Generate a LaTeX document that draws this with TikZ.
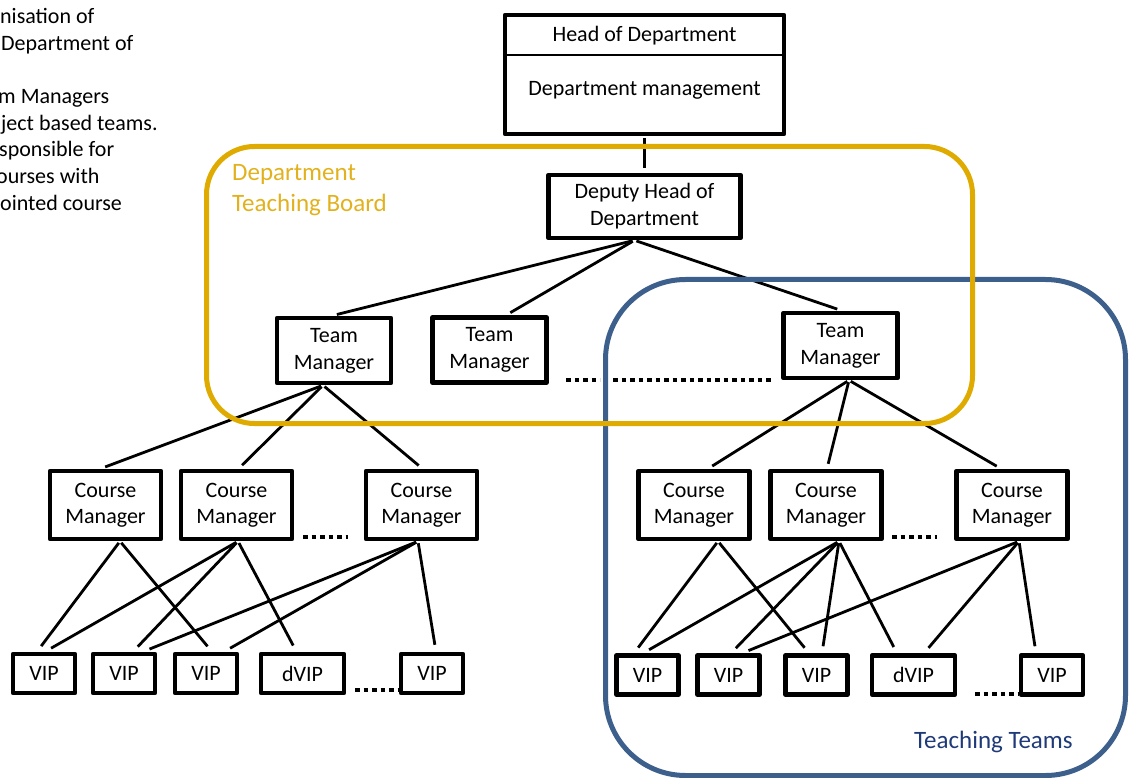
\documentclass[tikz,border=0pt]{standalone}
\usepackage{fontspec}
\setmainfont{Carlito}
\definecolor{boardgold}{RGB}{223,171,0}
\definecolor{boardtext}{RGB}{226,177,30}
\definecolor{teamblue}{RGB}{61,95,140}
\definecolor{teamnavy}{RGB}{31,58,120}
\tikzset{
  box/.style={draw, line width=4.6pt, align=center, inner sep=0pt, font=\fontsize{22}{27}\selectfont},
  cmbox/.style={box, minimum width=111pt, minimum height=68pt},
  tmbox/.style={box, minimum width=114pt, minimum height=65pt},
  vipbox/.style={box, minimum width=62pt, minimum height=39pt},
  dvipbox/.style={box, minimum width=83pt, minimum height=39pt},
  link/.style={line width=2.8pt, shorten <=2pt, shorten >=5pt},
  viplink/.style={link, shorten >=7pt},
  dotrow/.style={line width=4.5pt, dash pattern=on 4.5pt off 4pt},
}
\begin{document}
\begin{tikzpicture}[x=1pt, y=-1pt, line join=round]
	\useasboundingbox (0,0) rectangle (1133,778);
	% cropped note, top left
	\foreach \i/\x/\t in {0/0/nisation of, 1/1/Department of, 3/-2/m Managers, 4/1/ject based teams., 5/-1/sponsible for, 6/-4/ourses with, 7/0/ointed course}
		\node[anchor=base west, inner sep=0pt, font=\fontsize{22}{27}\selectfont] (note\i) at (\x,24+26.6*\i) {\t};
	% head and deputy
	\node[box, minimum width=279pt, minimum height=119pt] (head) at (644.5,74.5) {};
	\draw[line width=2.8pt] (head.west |- 0,55) -- (head.east |- 0,55);
	\node[font=\fontsize{22}{27}\selectfont] (headtitle) at (644.5,36) {Head of Department};
	\node[font=\fontsize{22}{27}\selectfont] (headmgmt) at (644.5,90) {Department management};
	\node[box, minimum width=192pt, minimum height=63pt] (dep) at (644.5,206.5) {Deputy Head of\\Department};
	% team managers
	\node[tmbox] (tm1) at (334,350.5) {Team\\Manager};
	\node[tmbox] (tm2) at (489.5,350) {Team\\Manager};
	\node[tmbox] (tm3) at (840.5,345.5) {Team\\Manager};
	% course managers
	\foreach \n/\x in {cm1/105.5, cm2/236.5, cm3/421.5, cm4/694, cm5/826, cm6/1012}
		\node[cmbox] (\n) at (\x,505) {\raisebox{-2.5pt}{\begin{tabular}{@{}c@{}}Course\\[-0.9pt]Manager\end{tabular}}};
	% vips
	\foreach \n/\x/\y in {v1/44/673.5, v2/124/673.5, v3/206/673.5, v5/432/673.5, v6/647.5/675, v7/728.5/675, v8/816.5/675, v10/1052/675}
		\node[vipbox] (\n) at (\x,\y) {VIP};
	\node[dvipbox] (dv1) at (302.5,673.5) {dVIP};
	\node[dvipbox] (dv2) at (913.5,675) {dVIP};
	% links
	\draw[link] (head.south) -- (dep.north);
	\foreach \a/\da/\b/\db in {dep/-10/tm1/-2, dep/-10/tm2/16.5, dep/-10/tm3/1.5,
		tm1/-11/cm1/-5, tm1/-11/cm2/2, tm1/-11/cm3/1,
		tm3/8.5/cm4/14, tm3/8.5/cm5/1, tm3/8.5/cm6/-11}
		\draw[link] ([xshift=\da pt]\a.south) -- ([xshift=\db pt]\b.north);
	\foreach \a/\da/\b/\db in {cm1/14.5/v1/-7, cm1/14.5/v3/6,
		cm2/1.5/v1/1, cm2/1.5/v2/9, cm2/1.5/dv1/-6,
		cm3/-3.5/v2/19, cm3/-3.5/v3/18, cm3/-3.5/v5/4,
		cm4/24/v6/-13.5, cm4/24/v8/-7.5,
		cm5/13/v6/-4.5, cm5/13/v7/2.5, cm5/13/v8/5.5, cm5/13/dv2/-16.5,
		cm6/7/v7/13.5, cm6/7/dv2/10.5, cm6/7/v10/-16}
		\draw[viplink] ([xshift=\da pt]\a.south) -- ([xshift=\db pt]\b.north);
	% dots
	\draw[dotrow] (566,380) -- (600,380) (613,380) -- (771,380);
	\draw[dotrow] (303,537) -- (348,537) (892,537) -- (937,537);
	\draw[dotrow] (355,690) -- (398,690) (975,694) -- (1018,694);
	% groups
	\draw[teamblue, line width=5pt, rounded corners=80pt] (605.5,279.5) rectangle (1125.5,775.5);
	\draw[boardgold, line width=5pt, rounded corners=48pt] (206.5,146.5) rectangle (972.5,423.5);
	\node[anchor=base west, inner sep=0pt, text=boardtext, font=\fontsize{25}{31}\selectfont] (board1) at (232,181) {Department};
	\node[anchor=base west, inner sep=0pt, text=boardtext, font=\fontsize{25}{31}\selectfont] (board2) at (232,212) {Teaching Board};
	\node[anchor=base west, inner sep=0pt, text=teamnavy, font=\fontsize{25}{31}\selectfont] (teams) at (914,748) {Teaching Teams};
\end{tikzpicture}
\end{document}
